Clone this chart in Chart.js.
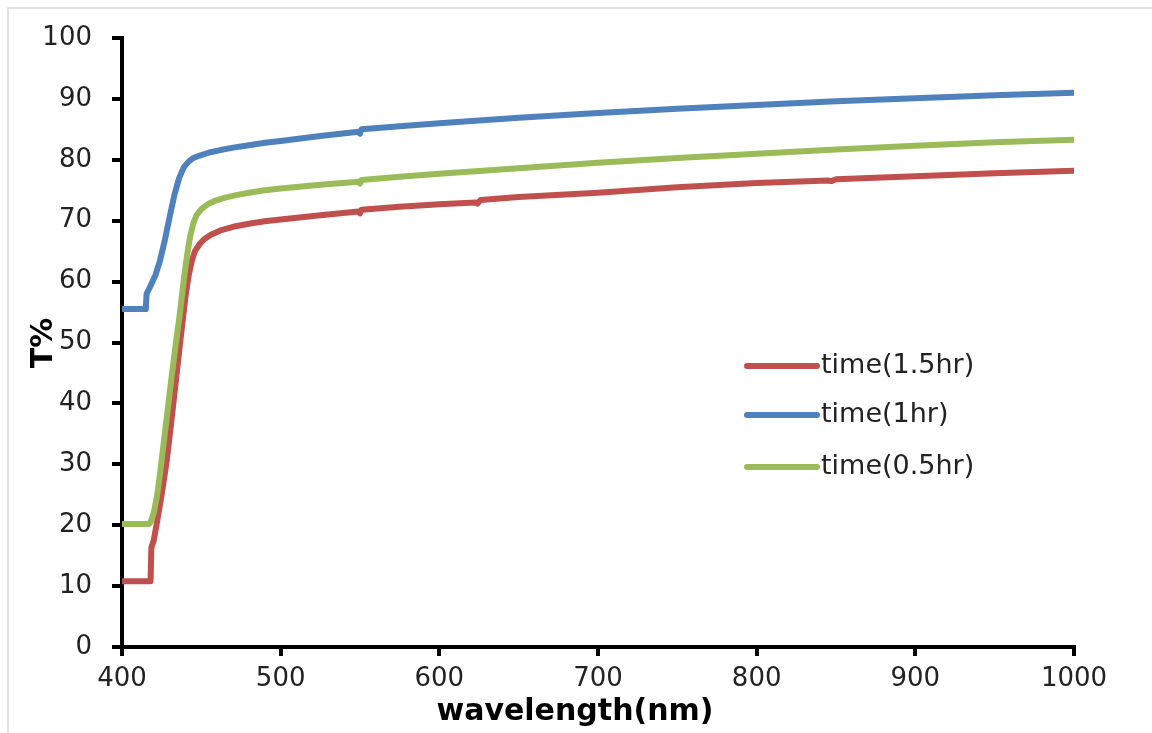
<!DOCTYPE html>
<html>
<head>
<meta charset="utf-8">
<script src="https://cdn.jsdelivr.net/npm/chart.js@4.4.1/dist/chart.umd.min.js"></script>
<style>
  html, body { margin: 0; padding: 0; background: #fff; }
  #wrap { width: 1152px; height: 733px; position: relative; }
</style>
</head>
<body>
<div id="wrap"><canvas id="c" width="1152" height="733"></canvas></div>
<script>
// Transmittance spectra for three deposition times
const seriesLabels = ['time(1.5hr)', 'time(1hr)', 'time(0.5hr)'];
const seriesColors = ['#C0504D', '#4F81BD', '#9BBB59'];

const wl15 = [400, 418, 418.5, 420, 422, 425, 428, 431, 434, 437, 440, 442, 444, 446, 449, 452, 456, 462, 470, 480, 490, 500, 525, 549, 550, 551, 575, 600, 623, 624, 626, 650, 700, 750, 800, 845, 847, 850, 900, 950, 1000];
const t15  = [10.8, 10.8, 16.3, 17.5, 20.4, 25.0, 30.2, 36.8, 43.8, 50.8, 57.5, 61.0, 63.4, 65.0, 66.2, 67.0, 67.7, 68.4, 69.0, 69.5, 69.9, 70.2, 70.9, 71.5, 71.2, 71.8, 72.3, 72.7, 73.0, 72.8, 73.4, 73.9, 74.6, 75.5, 76.2, 76.6, 76.5, 76.8, 77.3, 77.8, 78.2];

const wl10 = [400, 415, 415.5, 418, 421, 424, 427, 430, 433, 436, 439, 442, 445, 449, 455, 462, 470, 480, 490, 500, 525, 549, 550, 551, 575, 600, 650, 700, 750, 800, 850, 900, 950, 1000];
const t10  = [55.5, 55.5, 58.0, 59.3, 61.0, 63.5, 66.8, 70.6, 74.2, 77.0, 78.8, 79.7, 80.3, 80.7, 81.2, 81.6, 82.0, 82.4, 82.8, 83.1, 83.9, 84.6, 84.3, 85.0, 85.5, 86.0, 86.9, 87.7, 88.4, 89.0, 89.6, 90.1, 90.6, 91.0];

const wl05 = [400, 417, 418, 420, 422, 424, 426, 428.5, 431, 434, 436.5, 439, 441, 443, 445, 447, 450, 454, 458, 465, 472, 480, 490, 500, 525, 549, 550, 551, 575, 600, 650, 700, 750, 800, 850, 900, 950, 1000];
const t05  = [20.2, 20.2, 20.5, 22.0, 24.7, 28.5, 32.9, 38.3, 43.8, 50.0, 54.8, 60.5, 64.3, 67.5, 69.6, 70.9, 71.9, 72.7, 73.2, 73.8, 74.2, 74.6, 75.0, 75.3, 75.9, 76.4, 76.1, 76.7, 77.2, 77.7, 78.6, 79.5, 80.3, 81.0, 81.7, 82.3, 82.9, 83.3];

const xTicks = [400, 500, 600, 700, 800, 900, 1000];
const yTicks = [0, 10, 20, 30, 40, 50, 60, 70, 80, 90, 100];
const xTitle = 'wavelength(nm)';
const yTitle = 'T%';

const toPoints = (xs, ys) => xs.map((x, i) => ({ x: x, y: ys[i] }));
const seriesData = [toPoints(wl15, t15), toPoints(wl10, t10), toPoints(wl05, t05)];
const drawOrder = [2, 1, 0];

const datasets = seriesData.map((d, i) => ({
  label: seriesLabels[i],
  data: d,
  borderColor: seriesColors[i],
  backgroundColor: seriesColors[i],
  borderWidth: 6,
  pointRadius: 0,
  borderJoinStyle: 'round',
  borderCapStyle: 'round',
  tension: 0,
  fill: false,
  order: drawOrder[i]
}));

// Outer frame, axis titles and in-plot legend
const decorations = {
  id: 'decorations',
  beforeDraw(chart) {
    const ctx = chart.ctx;
    ctx.save();
    ctx.strokeStyle = '#d9d9d9';
    ctx.lineWidth = 1.5;
    ctx.beginPath();
    ctx.moveTo(8, 733);
    ctx.lineTo(8, 8);
    ctx.lineTo(1152, 8);
    ctx.stroke();
    ctx.restore();
  },
  afterDraw(chart) {
    const ctx = chart.ctx;
    ctx.save();
    ctx.fillStyle = '#000';
    ctx.font = 'bold 30px "DejaVu Sans"';
    ctx.textAlign = 'center';
    ctx.textBaseline = 'middle';
    ctx.fillText(xTitle, 575, 712);
    ctx.translate(44, 343);
    ctx.rotate(-Math.PI / 2);
    ctx.fillText(yTitle, 0, 0);
    ctx.restore();

    ctx.save();
    const rows = [366, 415, 467];
    ctx.font = '27px "DejaVu Sans"';
    ctx.textBaseline = 'middle';
    ctx.textAlign = 'left';
    chart.data.datasets.forEach((ds, i) => {
      const y = rows[i];
      ctx.strokeStyle = ds.borderColor;
      ctx.lineWidth = 6;
      ctx.lineCap = 'round';
      ctx.beginPath();
      ctx.moveTo(747, y);
      ctx.lineTo(817, y);
      ctx.stroke();
      ctx.fillStyle = '#222';
      ctx.fillText(ds.label, 821, y);
    });
    ctx.restore();
  }
};

new Chart(document.getElementById('c'), {
  type: 'line',
  data: { datasets: datasets },
  options: {
    responsive: false,
    animation: false,
    devicePixelRatio: 1,
    layout: { padding: { left: 0, top: 38, right: 78, bottom: 0 } },
    plugins: { legend: { display: false }, tooltip: { enabled: false } },
    scales: {
      x: {
        type: 'linear',
        min: 400,
        max: 1000,
        afterFit(scale) { scale.height = 86; },
        afterBuildTicks(scale) { scale.ticks = xTicks.map(v => ({ value: v })); },
        border: { display: true, color: '#000', width: 4 },
        grid: { display: true, drawOnChartArea: false, drawTicks: true, tickLength: 9, color: '#000', lineWidth: 4 },
        ticks: { color: '#222', font: { family: 'DejaVu Sans', size: 26 }, padding: 8, maxRotation: 0, callback: v => String(v) }
      },
      y: {
        type: 'linear',
        min: 0,
        max: 100,
        afterFit(scale) { scale.width = 122; },
        afterBuildTicks(scale) { scale.ticks = yTicks.map(v => ({ value: v })); },
        border: { display: true, color: '#000', width: 4 },
        grid: { display: true, drawOnChartArea: false, drawTicks: true, tickLength: 10, color: '#000', lineWidth: 4 },
        ticks: { color: '#222', font: { family: 'DejaVu Sans', size: 26 }, padding: 20, callback: v => String(v) }
      }
    }
  },
  plugins: [decorations]
});
</script>
</body>
</html>
